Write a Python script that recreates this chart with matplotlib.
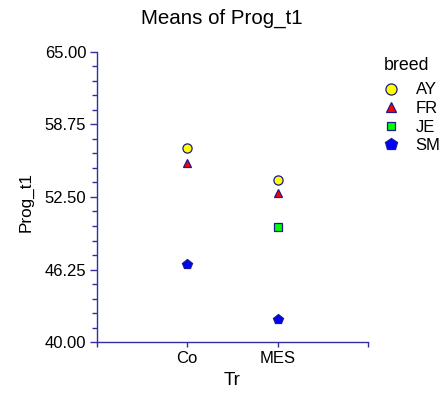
import matplotlib
matplotlib.use("Agg")
import matplotlib.pyplot as plt
from matplotlib.ticker import FixedLocator, AutoMinorLocator, FormatStrFormatter

plt.rcParams['font.family'] = ['Liberation Sans', 'DejaVu Sans']

categories = ["Co", "MES"]
breeds = ["AY", "FR", "JE", "SM"]
values = {
    "AY": [56.67, 53.93],
    "FR": [55.41, 52.84],
    "JE": [None, 49.87],
    "SM": [46.74, 41.99],
}
yticks = [40.00, 46.25, 52.50, 58.75, 65.00]

styles = {
    "AY": dict(marker="o", color="#FFFF00", ms=6.6, lms=8.0),
    "FR": dict(marker="^", color="#FF0000", ms=6.1, lms=7.9),
    "JE": dict(marker="s", color="#00FF00", ms=5.2, lms=5.5),
    "SM": dict(marker="p", color="#0000FF", ms=6.9, lms=9.3),
}
edge = "#1A1A8C"
axcol = "#3030A0"

W, H = 446, 394
def fx(px):
    return px / W
def fy(py):
    return 1 - py / H

fig = plt.figure(figsize=(4.46, 3.94), dpi=100)
left, right, top, bottom = 96.8, 368.0, 51.5, 342.3
ax = fig.add_axes([fx(left), fy(bottom), (right - left) / W, (bottom - top) / H])

for b in breeds:
    xs, ys = [], []
    for i, v in enumerate(values[b]):
        if v is not None:
            xs.append(i + 1)
            ys.append(v)
    st = styles[b]
    ax.plot(xs, ys, linestyle="none", marker=st["marker"], markersize=st["ms"],
            markerfacecolor=st["color"], markeredgecolor=edge, markeredgewidth=0.9,
            label=b, clip_on=False)

ax.set_xlim(0, 3)
ax.set_ylim(40, 65)
ax.set_xticks([0, 1, 2, 3])
ax.set_xticklabels([""] + categories + [""])
ax.yaxis.set_major_locator(FixedLocator(yticks))
ax.yaxis.set_minor_locator(AutoMinorLocator(5))
ax.yaxis.set_major_formatter(FormatStrFormatter("%.2f"))

for s in ["top", "right"]:
    ax.spines[s].set_visible(False)
for s in ["left", "bottom"]:
    ax.spines[s].set_color(axcol)
    ax.spines[s].set_linewidth(1.0)

ax.tick_params(axis="y", which="major", direction="out", length=4.8, width=1,
               color=axcol, labelsize=12, pad=2.8)
ax.tick_params(axis="y", which="minor", direction="out", length=3.6, width=1, color=axcol)
ax.tick_params(axis="x", which="major", direction="out", length=3.3, width=1,
               color=axcol, labelsize=12, pad=3.3)

ax.set_xlabel("Tr", fontsize=13.5)
ax.xaxis.set_label_coords(0.497, -0.1468)
ax.xaxis.label.set_va("baseline")
ax.set_ylabel("Prog_t1", fontsize=12.3)
ax.yaxis.set_label_coords(-0.232, 0.4835)

fig.text(fx(222), fy(23.5), "Means of Prog_t1", ha="center", va="baseline", fontsize=14.8)

# legend (drawn manually for exact placement)
fig.text(fx(384), fy(70), "breed", ha="left", va="baseline", fontsize=12.8)
rows = [88.5, 107, 125.5, 144]
for b, ry in zip(breeds, rows):
    st = styles[b]
    fig.add_artist(plt.Line2D([fx(391)], [fy(ry)], linestyle="none", marker=st["marker"],
                              markersize=st["lms"], markerfacecolor=st["color"],
                              markeredgecolor=edge, markeredgewidth=0.9,
                              transform=fig.transFigure))
    fig.text(fx(415.5), fy(ry + 6.0), b, ha="left", va="baseline", fontsize=12)

fig.savefig("out.png", dpi=100)
